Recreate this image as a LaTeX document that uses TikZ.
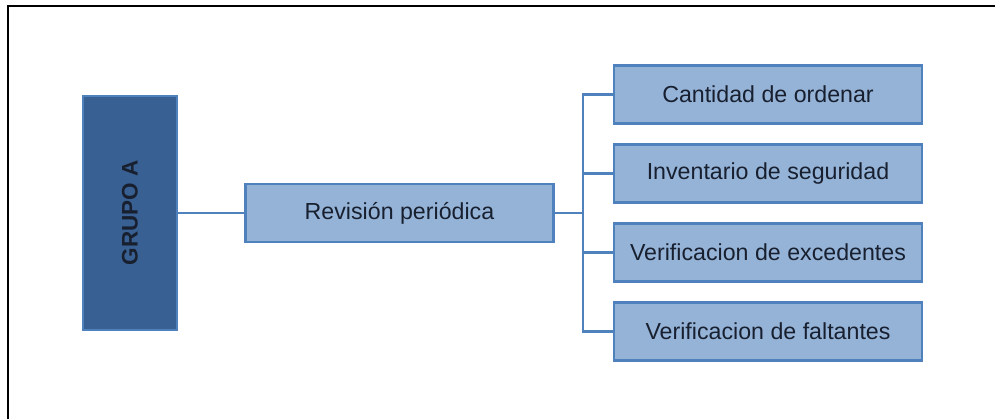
\documentclass[tikz,border=0pt]{standalone}
\usepackage{fontspec}
\setmainfont{Liberation Sans}
\usetikzlibrary{positioning, calc}
\definecolor{darkblue}{RGB}{56, 96, 146}
\definecolor{lightblue}{RGB}{149, 179, 215}
\definecolor{lineblue}{RGB}{79, 129, 189}
\definecolor{textnavy}{RGB}{24, 32, 48}

\begin{document}
\begin{tikzpicture}[
    root/.style={rectangle, draw=lineblue, line width=1.4pt, fill=darkblue, minimum width=2.35cm, minimum height=5.87cm, text=textnavy, font=\fontsize{16}{19}\selectfont\bfseries},
    box/.style={rectangle, draw=lineblue, line width=2pt, fill=lightblue, minimum width=7.7cm, minimum height=1.45cm, text=textnavy, font=\fontsize{16.5}{19}\selectfont},
    link/.style={draw=lineblue, line width=2pt}
]
\useasboundingbox (0,0) rectangle (24.875,-10.475);
% frame, cut off at the right and bottom
\draw[line width=1.4pt] (0.2,-10.475) -- (0.2,-0.15) -- (24.875,-0.15);

\node[root] (grp) at (3.25,-5.325) {\rotatebox{90}{GRUPO A}};
\node[box] (rev) at (9.9875,-5.325) {Revisión periódica};

\node[box] (item1) at (19.2,-2.3625) {Cantidad de ordenar};
\node[box] (item2) at (19.2,-4.3375) {Inventario de seguridad};
\node[box] (item3) at (19.2,-6.3125) {Verificacion de excedentes};
\node[box] (item4) at (19.2,-8.2875) {Verificacion de faltantes};

\coordinate (bus) at (14.575,-5.325);

\draw[link] (grp.east) -- (rev.west);
\draw[link] (rev.east) -- (bus);
\foreach \i in {1,...,4}
    \draw[link] (bus) |- (item\i.west);
\end{tikzpicture}
\end{document}
